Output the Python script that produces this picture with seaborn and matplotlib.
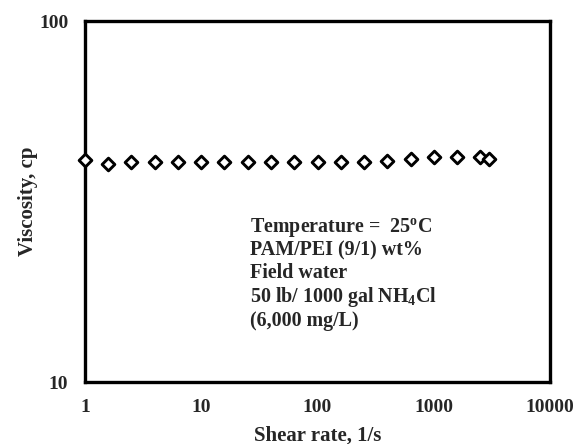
import numpy as np
import pandas as pd
import matplotlib
matplotlib.use("Agg")
import matplotlib.pyplot as plt
import seaborn as sns
from matplotlib.ticker import LogLocator, NullFormatter, FixedLocator, FixedFormatter

shear_rate = [1, 1.58, 2.51, 3.98, 6.31, 10, 15.8, 25.1, 39.8, 63.1,
              100, 158, 251, 398, 631, 1000, 1585, 2512, 3000]
viscosity = [41.2, 40.1, 40.6, 40.6, 40.7, 40.7, 40.8, 40.7, 40.7, 40.8,
             40.8, 40.8, 40.6, 40.9, 41.4, 41.9, 42.1, 41.9, 41.5]
x_ticks = [1, 10, 100, 1000, 10000]
x_tick_labels = ["1", "10", "100", "1000", "10000"]
y_ticks = [10, 100]
y_tick_labels = ["10", "100"]
annotation_lines = ["Temperature =  25$^{\\mathregular{o}}$C",
                    "PAM/PEI (9/1) wt%",
                    "Field water",
                    "50 lb/ 1000 gal NH$_{\\mathregular{4}}$Cl",
                    "(6,000 mg/L)"]

sns.set_style("white")
plt.rcParams['font.family'] = ['Liberation Serif', 'DejaVu Serif']
plt.rcParams['font.weight'] = 'bold'
plt.rcParams['mathtext.fontset'] = 'custom'
plt.rcParams['mathtext.rm'] = 'Liberation Serif:bold'
plt.rcParams['mathtext.it'] = 'Liberation Serif:bold'
plt.rcParams['mathtext.bf'] = 'Liberation Serif:bold'

df = pd.DataFrame({"shear": shear_rate, "visc": viscosity})

fig = plt.figure(figsize=(5.76, 4.44), dpi=100)
ax = fig.add_axes([0.1476, 0.1396, 0.8073, 0.8131])

sns.scatterplot(data=df, x="shear", y="visc", ax=ax, marker="D", s=42,
                facecolor="white", edgecolor="black", linewidth=2.1, zorder=3,
                clip_on=False)

ax.set_xscale("log")
ax.set_yscale("log")
ax.set_xlim(1, 10000)
ax.set_ylim(10, 100)

ax.xaxis.set_major_locator(FixedLocator(x_ticks))
ax.xaxis.set_major_formatter(FixedFormatter(x_tick_labels))
ax.yaxis.set_major_locator(FixedLocator(y_ticks))
ax.yaxis.set_major_formatter(FixedFormatter(y_tick_labels))
ax.xaxis.set_minor_locator(LogLocator(base=10, subs=np.arange(2, 10), numticks=20))
ax.yaxis.set_minor_locator(LogLocator(base=10, subs=np.arange(2, 10), numticks=20))
ax.xaxis.set_minor_formatter(NullFormatter())
ax.yaxis.set_minor_formatter(NullFormatter())

ax.tick_params(axis="x", which="major", length=0, labelsize=14, pad=12)
ax.tick_params(axis="y", which="major", length=0, labelsize=14, pad=12)
ax.tick_params(axis="both", which="minor", direction="in", length=3,
               width=0.8, color="#999999")
for lab in ax.get_xticklabels() + ax.get_yticklabels():
    lab.set_fontweight("bold")

for sp in ax.spines.values():
    sp.set_linewidth(2.4)
    sp.set_color("black")

ax.set_xlabel("Shear rate, 1/s", fontsize=15, fontweight="bold", labelpad=7)
ax.set_ylabel("Viscosity, cp", fontsize=15, fontweight="bold", labelpad=1)

ax.text(0.355, 0.46, "\n".join(annotation_lines), transform=ax.transAxes,
        ha="left", va="top", fontsize=14.4, fontweight="bold", linespacing=1.13)

fig.savefig("out.png", dpi=100)
